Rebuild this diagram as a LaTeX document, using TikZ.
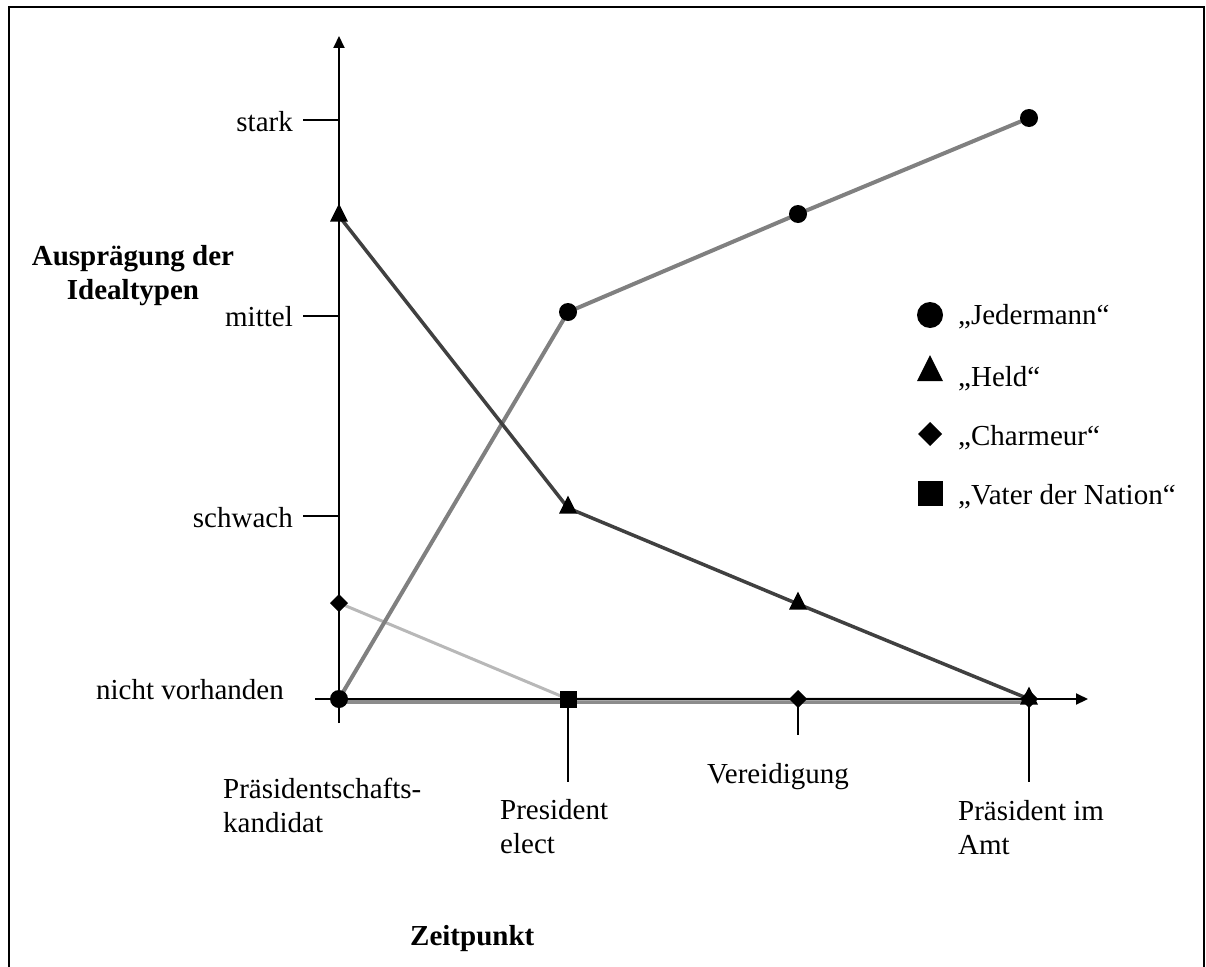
\documentclass[tikz,border=0pt]{standalone}
\usepackage{fontspec}
\setmainfont{Liberation Serif}
\usetikzlibrary{arrows.meta,shapes.geometric}
\begin{document}
\begin{tikzpicture}[x=1pt,y=-1pt,
  lbl/.style={font=\fontsize{29}{34}\selectfont, inner sep=0pt},
  ttl/.style={font=\fontsize{29}{34}\selectfont\bfseries, inner sep=0pt},
  axisline/.style={line width=2pt, -{Triangle[length=12pt,width=11pt]}},
  tickline/.style={line width=1.6pt},
  frameline/.style={line width=2.5pt},
  mk/.style={fill=black, draw=none, inner sep=0pt, outer sep=0pt},
  dot/.style={mk, circle, minimum size=#1},
  dot/.default=18pt,
  tri/.style={mk, isosceles triangle, isosceles triangle stretches,
    shape border rotate=90, minimum width=#1, minimum height=#1},
  tri/.default=18pt,
  dia/.style={mk, diamond, minimum width=#1, minimum height=#1},
  dia/.default=18pt,
  sq/.style={mk, rectangle, minimum size=#1},
  sq/.default=17pt,
  jline/.style={draw=black!50, line width=4pt},
  hline/.style={draw=black!75, line width=3.5pt},
  cline/.style={draw=black!28, line width=3pt},
  vline/.style={draw=black!45, line width=5pt},
]
\useasboundingbox (0,0) rectangle (1206,966);

% outer frame, open at the bottom
\draw[frameline] (9,980) -- (9,7) -- (1204,7) -- (1204,980);

% data points
\coordinate (J1) at (339,699); \coordinate (J2) at (568,312);
\coordinate (J3) at (798,214); \coordinate (J4) at (1029,118);
\coordinate (H1) at (339,216); \coordinate (H2) at (568,508);
\coordinate (H3) at (798,604); \coordinate (H4) at (1029,699);
\coordinate (C1) at (339,603); \coordinate (C2) at (568,699);
\coordinate (C3) at (798,699); \coordinate (C4) at (1029,699);
\coordinate (V1) at (339,699); \coordinate (V2) at (568,699);
\coordinate (V3) at (798,699); \coordinate (V4) at (1029,699);

% series lines
\draw[vline] ([yshift=-2pt]V1) -- ([yshift=-2pt]V2) -- ([yshift=-2pt]V3) -- ([yshift=-2pt]V4);
\draw[cline] (C1) -- (C2) -- (C3) -- (C4);
\draw[jline] (J1) -- (J2) -- (J3) -- (J4);
\draw[hline] (H1) -- (H2) -- (H3) -- (H4);

% axes
\coordinate (ybot) at (339,723); \coordinate (ytop) at (339,36);
\coordinate (xleft) at (315,699); \coordinate (xright) at (1088,699);
\draw[axisline] (ybot) -- (ytop);
\draw[axisline] (xleft) -- (xright);

% y ticks and labels
\draw[tickline] (303,120) -- (339,120);
\draw[tickline] (303,316) -- (339,316);
\draw[tickline] (303,516) -- (339,516);
\node[lbl, anchor=base east] (ystark) at (293,131) {stark};
\node[lbl, anchor=base east] (ymittel) at (293,326) {mittel};
\node[lbl, anchor=base east] (yschwach) at (293,527) {schwach};
\node[lbl, anchor=base east] (ynv) at (284,699) {nicht vorhanden};

% x ticks and labels
\draw[tickline] (568,699) -- (568,782);
\draw[tickline] (798,699) -- (798,735);
\draw[tickline] (1029,699) -- (1029,782);
\node[lbl, anchor=north west, align=left] (xk) at (223,778) {Präsidentschafts-\\kandidat};
\node[lbl, anchor=north west, align=left] (xe) at (500,799) {President\\elect};
\node[lbl, anchor=base west] (xv) at (707,783) {Vereidigung};
\node[lbl, anchor=north west, align=left] (xa) at (958,800) {Präsident im\\Amt};

% axis titles
\node[ttl, anchor=north, align=center] (ytitle) at (133,245) {Ausprägung der\\Idealtypen};
\node[ttl, anchor=base west] (xtitle) at (410,945) {Zeitpunkt};

% markers
\node[sq] (v2) at (V2) {};
\node[dia] (c1) at (C1) {};
\node[dia] (c3) at (C3) {};
\node[dia] (c4) at (C4) {};
\node[dot] (j1) at (J1) {};
\node[dot] (j2) at (J2) {};
\node[dot] (j3) at (J3) {};
\node[dot] (j4) at (J4) {};
\node[tri] (h1) at (H1) {};
\node[tri] (h2) at (H2) {};
\node[tri] (h3) at (H3) {};
\node[tri] (h4) at (H4) {};

% legend
\node[dot=26pt] (lj) at (930,315) {};
\node[tri=26pt] (lh) at (930,373) {};
\node[dia=24pt] (lc) at (930,434) {};
\node[sq=25pt]  (lv) at (930,493) {};
\node[lbl, anchor=base west] (tj) at (958,324) {„Jedermann“};
\node[lbl, anchor=base west] (th) at (958,386) {„Held“};
\node[lbl, anchor=base west] (tc) at (958,445) {„Charmeur“};
\node[lbl, anchor=base west] (tv) at (958,504) {„Vater der Nation“};
\end{tikzpicture}
\end{document}
